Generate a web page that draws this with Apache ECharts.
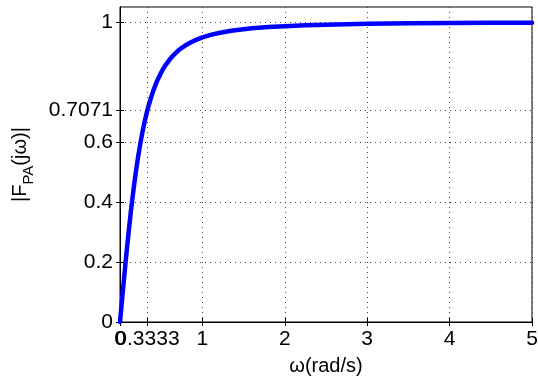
<!DOCTYPE html>
<html>
<head>
<meta charset="utf-8">
<script src="https://cdn.jsdelivr.net/npm/echarts@6/dist/echarts.min.js"></script>
<style>
  html, body { margin: 0; padding: 0; background: #fff; }
  #chart { width: 538px; height: 377px; }
</style>
</head>
<body>
<div id="chart"></div>
<script>
// Magnitude response of the phase-advance filter |F_PA(jω)|
const omega = [0, 0.01, 0.02, 0.03, 0.04, 0.05, 0.06, 0.075, 0.08, 0.09, 0.1, 0.11, 0.125, 0.13, 0.14, 0.15, 0.16, 0.175, 0.18, 0.2, 0.22, 0.25, 0.27, 0.3, 0.3333, 0.35, 0.4, 0.45, 0.5, 0.55, 0.6, 0.65, 0.7, 0.75, 0.8, 0.85, 0.9, 1, 1.1, 1.2, 1.35, 1.5, 1.6, 1.8, 2, 2.25, 2.5, 3, 3.5, 4, 4.5, 5];
const magnitude = [0, 0.030, 0.060, 0.0896, 0.119, 0.148, 0.177, 0.2195, 0.2334, 0.2607, 0.287, 0.3134, 0.351, 0.3634, 0.3873, 0.410, 0.4328, 0.465, 0.4752, 0.514, 0.5508, 0.600, 0.6294, 0.669, 0.7071, 0.7242, 0.768, 0.8036, 0.832, 0.8552, 0.874, 0.8898, 0.903, 0.914, 0.9231, 0.931, 0.9378, 0.949, 0.957, 0.9635, 0.9708, 0.976, 0.979, 0.9833, 0.986, 0.9892, 0.991, 0.994, 0.9955, 0.9965, 0.9973, 0.9978];

// Tick positions / labels
const xTicks = [0, 0.3333, 1, 2, 3, 4, 5];
const xOriginTick = [0];          // drawn on its own axis so it stays beside 0.3333
const xOtherTicks = [0.3333, 1, 2, 3, 4, 5];
const yTicks = [0, 0.2, 0.4, 0.6, 0.7071, 1];

const fontFamily = 'Liberation Sans, Arial, sans-serif';
const gridLine = { show: true, lineStyle: { color: '#444', width: 1, type: [1, 4] } };
const labelFmt = v => (Math.abs(v - 0.3333) < 1e-6 ? '0.3333' : String(v));

const chart = echarts.init(document.getElementById('chart'), null, { renderer: 'canvas' });

chart.setOption({
  animation: false,
  backgroundColor: '#fff',
  grid: { left: 120, right: 6, top: 7, bottom: 55, show: true, borderColor: '#000', borderWidth: 1,
    containLabel: false, outerBoundsMode: 'none' },
  xAxis: [{
    type: 'value', min: 0, max: 5, position: 'bottom',
    name: 'ω(rad/s)', nameLocation: 'middle', nameGap: 34,
    nameTextStyle: { fontFamily, fontSize: 20, color: '#000' },
    axisLine: { show: true, lineStyle: { color: '#000' } },
    axisTick: { show: true, inside: true, length: 4, customValues: xTicks, lineStyle: { color: '#000' } },
    axisLabel: { customValues: xOtherTicks, fontFamily, fontSize: 21, color: '#000', margin: 7,
      hideOverlap: false, formatter: labelFmt },
    splitLine: gridLine
  }, {
    type: 'value', min: 0, max: 5, position: 'top',
    axisLine: { show: true, lineStyle: { color: '#000' } },
    axisTick: { show: true, inside: true, length: 4, customValues: xTicks, lineStyle: { color: '#000' } },
    axisLabel: { show: false },
    splitLine: { show: false }
  }, {
    type: 'value', min: 0, max: 5, position: 'bottom',
    axisLine: { show: false },
    axisTick: { show: false },
    axisLabel: { customValues: xOriginTick, fontFamily, fontSize: 21, color: '#000', margin: 7,
      showMinLabel: true, formatter: labelFmt },
    splitLine: { show: false }
  }],
  yAxis: [{
    type: 'value', min: 0, max: 1.05, position: 'left',
    name: '{m||F}{s|PA}{m|(jω)|}', nameLocation: 'middle', nameGap: 84, nameRotate: 90,
    nameTextStyle: { fontFamily, fontSize: 20, color: '#000',
      rich: {
        m: { fontFamily, fontSize: 20, color: '#000', lineHeight: 22, verticalAlign: 'middle' },
        s: { fontFamily, fontSize: 15, color: '#000', lineHeight: 32, verticalAlign: 'bottom' }
      } },
    axisLine: { show: true, lineStyle: { color: '#000' } },
    axisTick: { show: true, inside: true, length: 4, customValues: yTicks, lineStyle: { color: '#000' } },
    axisLabel: { customValues: yTicks, fontFamily, fontSize: 21, color: '#000', margin: 7,
      hideOverlap: false, showMinLabel: true, showMaxLabel: true,
      formatter: v => (Math.abs(v - 0.7071) < 1e-6 ? '0.7071' : String(v)) },
    splitLine: gridLine
  }, {
    type: 'value', min: 0, max: 1.05, position: 'right',
    axisLine: { show: true, lineStyle: { color: '#000' } },
    axisTick: { show: true, inside: true, length: 4, customValues: yTicks, lineStyle: { color: '#000' } },
    axisLabel: { show: false },
    splitLine: { show: false }
  }],
  series: [{
    type: 'line',
    data: omega.map((w, i) => [w, magnitude[i]]),
    showSymbol: false,
    smooth: false,
    lineStyle: { color: '#0000ff', width: 4.5, join: 'round', cap: 'round' },
    clip: true
  }]
});
</script>
</body>
</html>
